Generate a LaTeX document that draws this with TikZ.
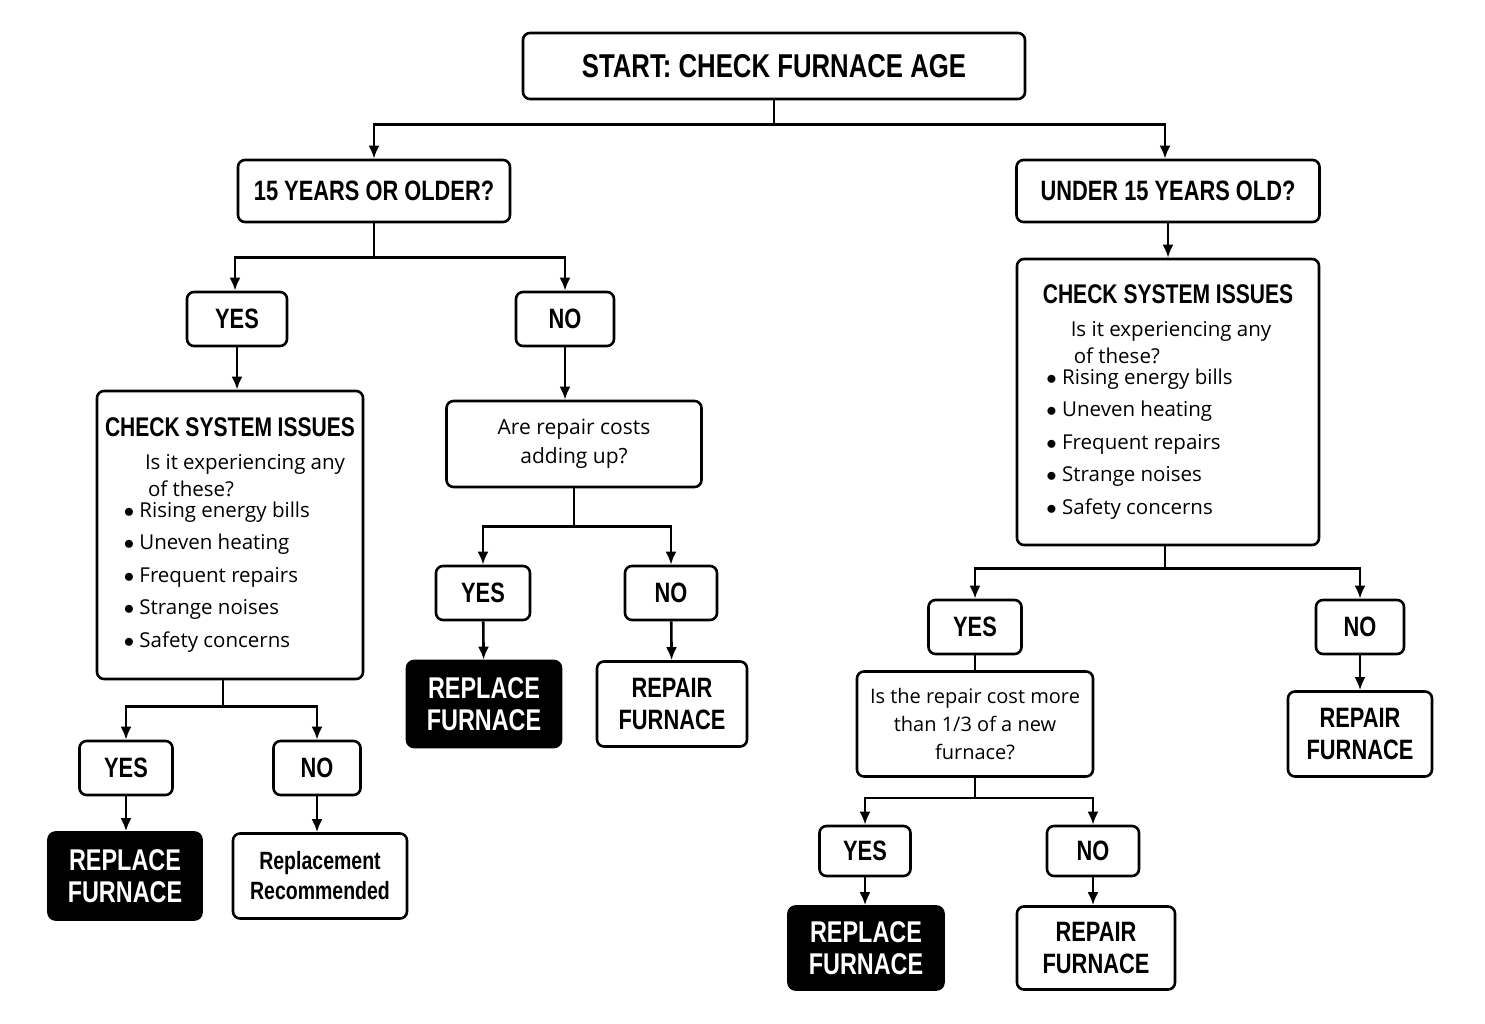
\documentclass[tikz,border=0pt]{standalone}
\usepackage{fontspec}
\setmainfont{Open Sans}
\newfontfamily\cond[FakeStretch=0.78]{Liberation Sans}
\begin{document}
\begin{tikzpicture}[x=1pt,y=-1pt,
 box/.style={draw,line width=2.6pt,rounded corners=7pt,fill=white,align=center,inner sep=0pt},
 blk/.style={box,fill=black,text=white},
 hd/.style={font=\cond\bfseries\fontsize{28}{32}\selectfont},
 bd/.style={font=\fontsize{21}{29}\selectfont},
 arr/.style={line width=2.6pt,-{Latex[length=13pt,width=11pt]}},
 ln/.style={line width=2.6pt}]
\usetikzlibrary{arrows.meta}
\useasboundingbox (0,0) rectangle (1485,1024);
\newcommand{\chk}[1]{\begin{minipage}{#1}\centering{\cond\bfseries\fontsize{27}{30}\selectfont CHECK SYSTEM ISSUES}\par\vspace{6pt}
{\fontsize{20.5}{27}\selectfont\hspace*{0.12\linewidth}\begin{minipage}[t]{0.8\linewidth}\raggedright Is it experiencing any\\\hspace*{3pt}of these?\end{minipage}\par\vspace{4pt}
\raggedright\hspace*{0.05\linewidth}\begin{minipage}{0.9\linewidth}\setlength{\baselineskip}{32.5pt}
$\bullet$\ Rising energy bills\par$\bullet$\ Uneven heating\par$\bullet$\ Frequent repairs\par$\bullet$\ Strange noises\par$\bullet$\ Safety concerns\end{minipage}}\end{minipage}}

\node[box,hd,minimum width=502pt,minimum height=66pt,font=\cond\bfseries\fontsize{33}{36}\selectfont] (start) at (774,66) {START: CHECK FURNACE AGE};
\node[box,hd,minimum width=272pt,minimum height=62pt] (old) at (374,191) {15 YEARS OR OLDER?};
\node[box,hd,minimum width=303pt,minimum height=62pt] (under) at (1168,191) {UNDER 15 YEARS OLD?};
\node[box,hd,minimum width=100pt,minimum height=54pt] (yes1) at (237,319) {YES};
\node[box,hd,minimum width=98pt,minimum height=54pt] (no1) at (565,319) {NO};
\node[box,minimum width=266pt,minimum height=288pt] (chk1) at (230,535) {\chk{250pt}};
\node[box,bd,minimum width=255pt,minimum height=86pt] (q1) at (574,444) {Are repair costs\\adding up?};
\node[box,hd,minimum width=94pt,minimum height=54pt] (yes2) at (483,593) {YES};
\node[box,hd,minimum width=92pt,minimum height=54pt] (no2) at (671,593) {NO};
\node[blk,hd,font=\cond\bfseries\fontsize{30}{32}\selectfont,minimum width=154pt,minimum height=86pt] (rep1) at (484,704) {REPLACE\\FURNACE};
\node[box,hd,minimum width=150pt,minimum height=85pt] (repair1) at (672,704) {REPAIR\\FURNACE};
\node[box,hd,minimum width=93pt,minimum height=54pt] (yes3) at (126,768) {YES};
\node[box,hd,minimum width=87pt,minimum height=54pt] (no3) at (317,768) {NO};
\node[blk,hd,font=\cond\bfseries\fontsize{30}{32}\selectfont,minimum width=153pt,minimum height=87pt] (rep2) at (125,876) {REPLACE\\FURNACE};
\node[box,font=\cond\bfseries\fontsize{25}{30}\selectfont,minimum width=174pt,minimum height=85pt] (rec) at (320,876) {Replacement\\Recommended};
\node[box,minimum width=302pt,minimum height=286pt] (chk2) at (1168,402) {\chk{286pt}};
\node[box,hd,minimum width=93pt,minimum height=54pt] (yes4) at (975,627) {YES};
\node[box,hd,minimum width=88pt,minimum height=54pt] (no4) at (1360,627) {NO};
\node[box,font=\fontsize{20}{28}\selectfont,minimum width=236pt,minimum height=105pt] (q2) at (975,724) {Is the repair cost more\\than 1/3 of a new\\furnace?};
\node[box,hd,minimum width=144pt,minimum height=85pt] (repair2) at (1360,734) {REPAIR\\FURNACE};
\node[box,hd,minimum width=91pt,minimum height=50pt] (yes5) at (865,851) {YES};
\node[box,hd,minimum width=92pt,minimum height=50pt] (no5) at (1093,851) {NO};
\node[blk,hd,font=\cond\bfseries\fontsize{30}{32}\selectfont,minimum width=155pt,minimum height=83pt] (rep3) at (866,948) {REPLACE\\FURNACE};
\node[box,hd,minimum width=158pt,minimum height=83pt] (repair3) at (1096,948) {REPAIR\\FURNACE};

\draw[arr] (start.south) -- ++(0,24) -| (old.north);
\draw[arr] (start.south) -- ++(0,24) -| ([xshift=-3pt]under.north);
\draw[arr] (old.south) -- ++(0,34) -| ([xshift=-2pt]yes1.north);
\draw[arr] (old.south) -- ++(0,34) -| (no1.north);
\draw[arr] (yes1) -- (yes1 |- chk1.north);
\draw[arr] (no1) -- (no1 |- q1.north);
\draw[arr] (q1.south) -- ++(0,38) -| (yes2.north);
\draw[arr] (q1.south) -- ++(0,38) -| (no2.north);
\draw[arr] (yes2) -- (rep1);
\draw[arr] (no2) -- (repair1);
\draw[arr] ([xshift=-7pt]chk1.south) -- ++(0,26) -| (yes3.north);
\draw[arr] ([xshift=-7pt]chk1.south) -- ++(0,26) -| (no3.north);
\draw[arr] (yes3) -- (yes3 |- rep2.north);
\draw[arr] (no3) -- (no3 |- rec.north);
\draw[arr] (under) -- (under |- chk2.north);
\draw[arr] ([xshift=-3pt]chk2.south) -- ++(0,22) -| (yes4.north);
\draw[arr] ([xshift=-3pt]chk2.south) -- ++(0,22) -| (no4.north);
\draw[ln] (yes4) -- (q2);
\draw[arr] (no4) -- (repair2);
\draw[arr] (q2.south) -- ++(0,20) -| (yes5.north);
\draw[arr] (q2.south) -- ++(0,20) -| (no5.north);
\draw[arr] (yes5) -- (yes5 |- rep3.north);
\draw[arr] (no5) -- (no5 |- repair3.north);
\end{tikzpicture}
\end{document}
